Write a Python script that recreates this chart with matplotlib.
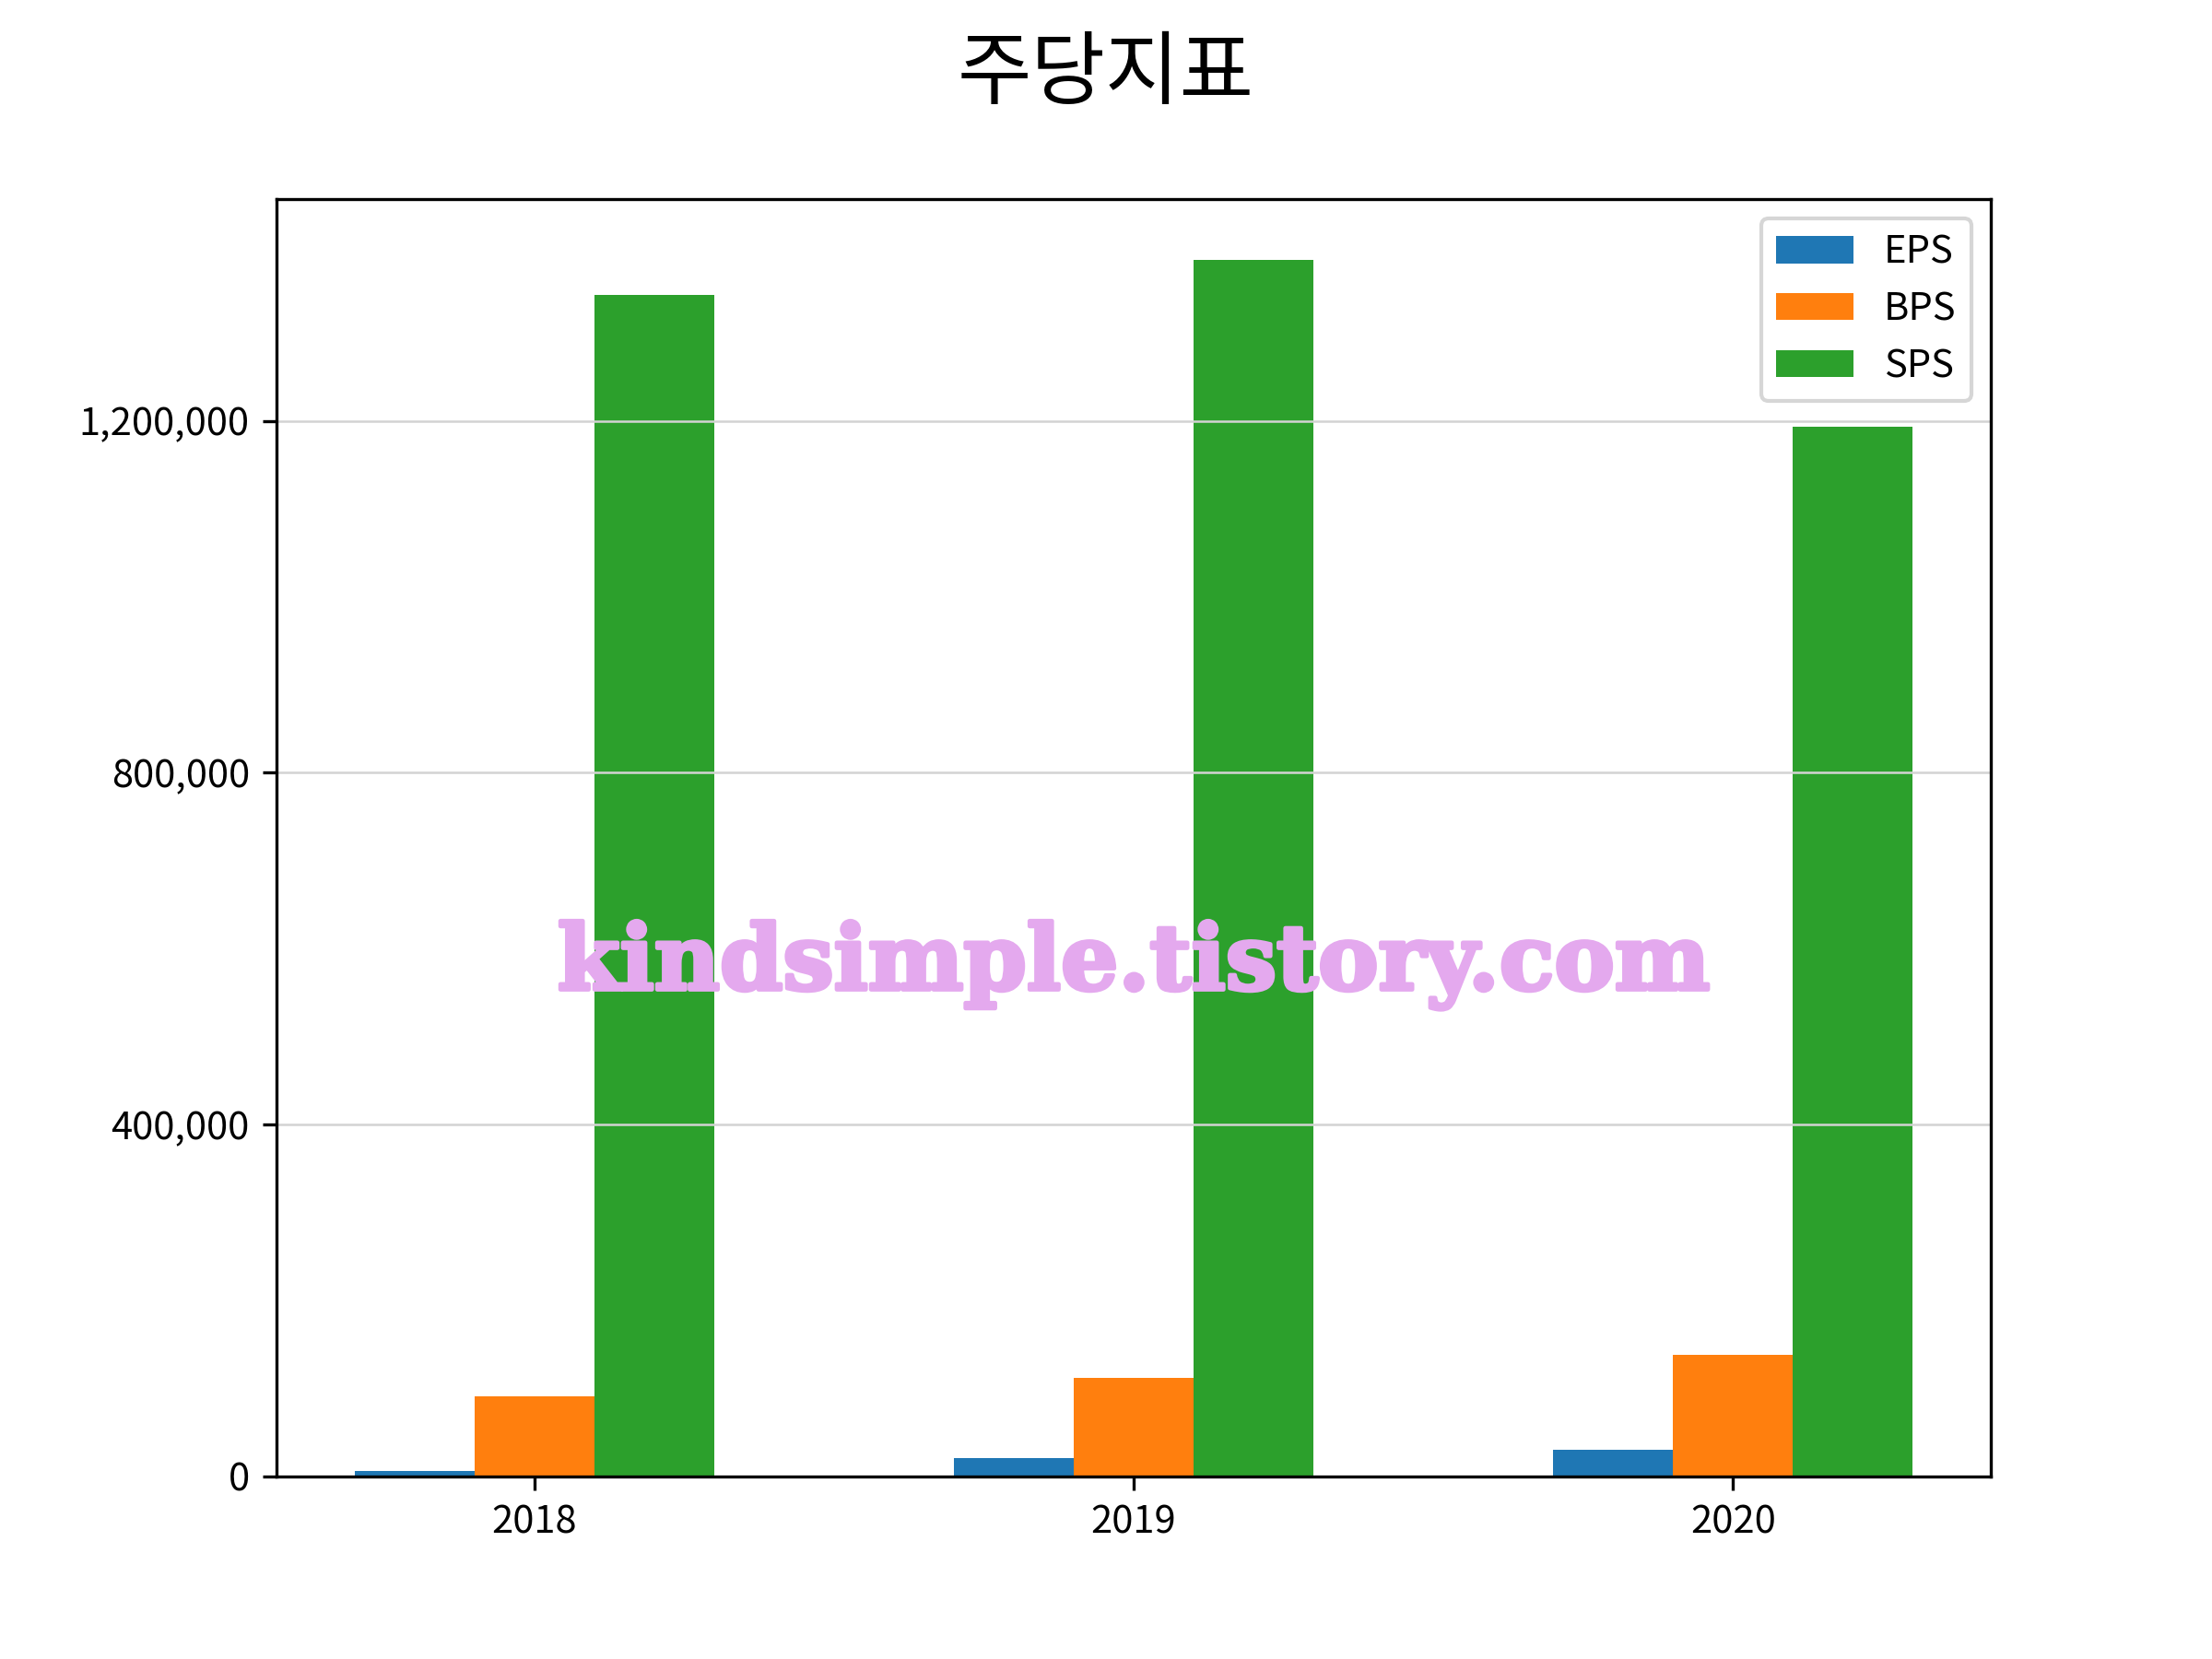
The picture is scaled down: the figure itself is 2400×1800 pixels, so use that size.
import numpy as np
import matplotlib.pyplot as plt
import matplotlib.patheffects as pe
from matplotlib.ticker import FuncFormatter

plt.rcParams['font.family'] = ['Noto Sans CJK KR', 'DejaVu Sans']

# 주당지표 데이터
years = ['2018', '2019', '2020']
eps = [6300, 20700, 30100]
bps = [91300, 111900, 138100]
sps = [1343000, 1383000, 1193000]

x = np.arange(len(years))
w = 0.2

fig, ax = plt.subplots(figsize=(8, 6), dpi=300)
ax.bar(x - w, eps, w, label='EPS')
ax.bar(x, bps, w, label='BPS')
ax.bar(x + w, sps, w, label='SPS')

ax.set_xticks(x)
ax.set_xticklabels(years)
ax.set_yticks([0, 400000, 800000, 1200000])
ax.yaxis.set_major_formatter(FuncFormatter(lambda v, p: f'{int(v):,}'))
ax.grid(axis='y', color='lightgray', linewidth=0.6)
ax.legend(loc='upper right')

fig.suptitle('주당지표', fontsize=21)

# 워터마크 (조금 굵게)
ax.text(0.5, 0.4, 'kindsimple.tistory.com', transform=ax.transAxes,
        ha='center', va='center', fontsize=23.5, fontweight='bold',
        family='DejaVu Serif', color='#E4A9EE', zorder=5,
        path_effects=[pe.withStroke(linewidth=1.1, foreground='#E4A9EE')])

plt.savefig('out.png', dpi=300)
